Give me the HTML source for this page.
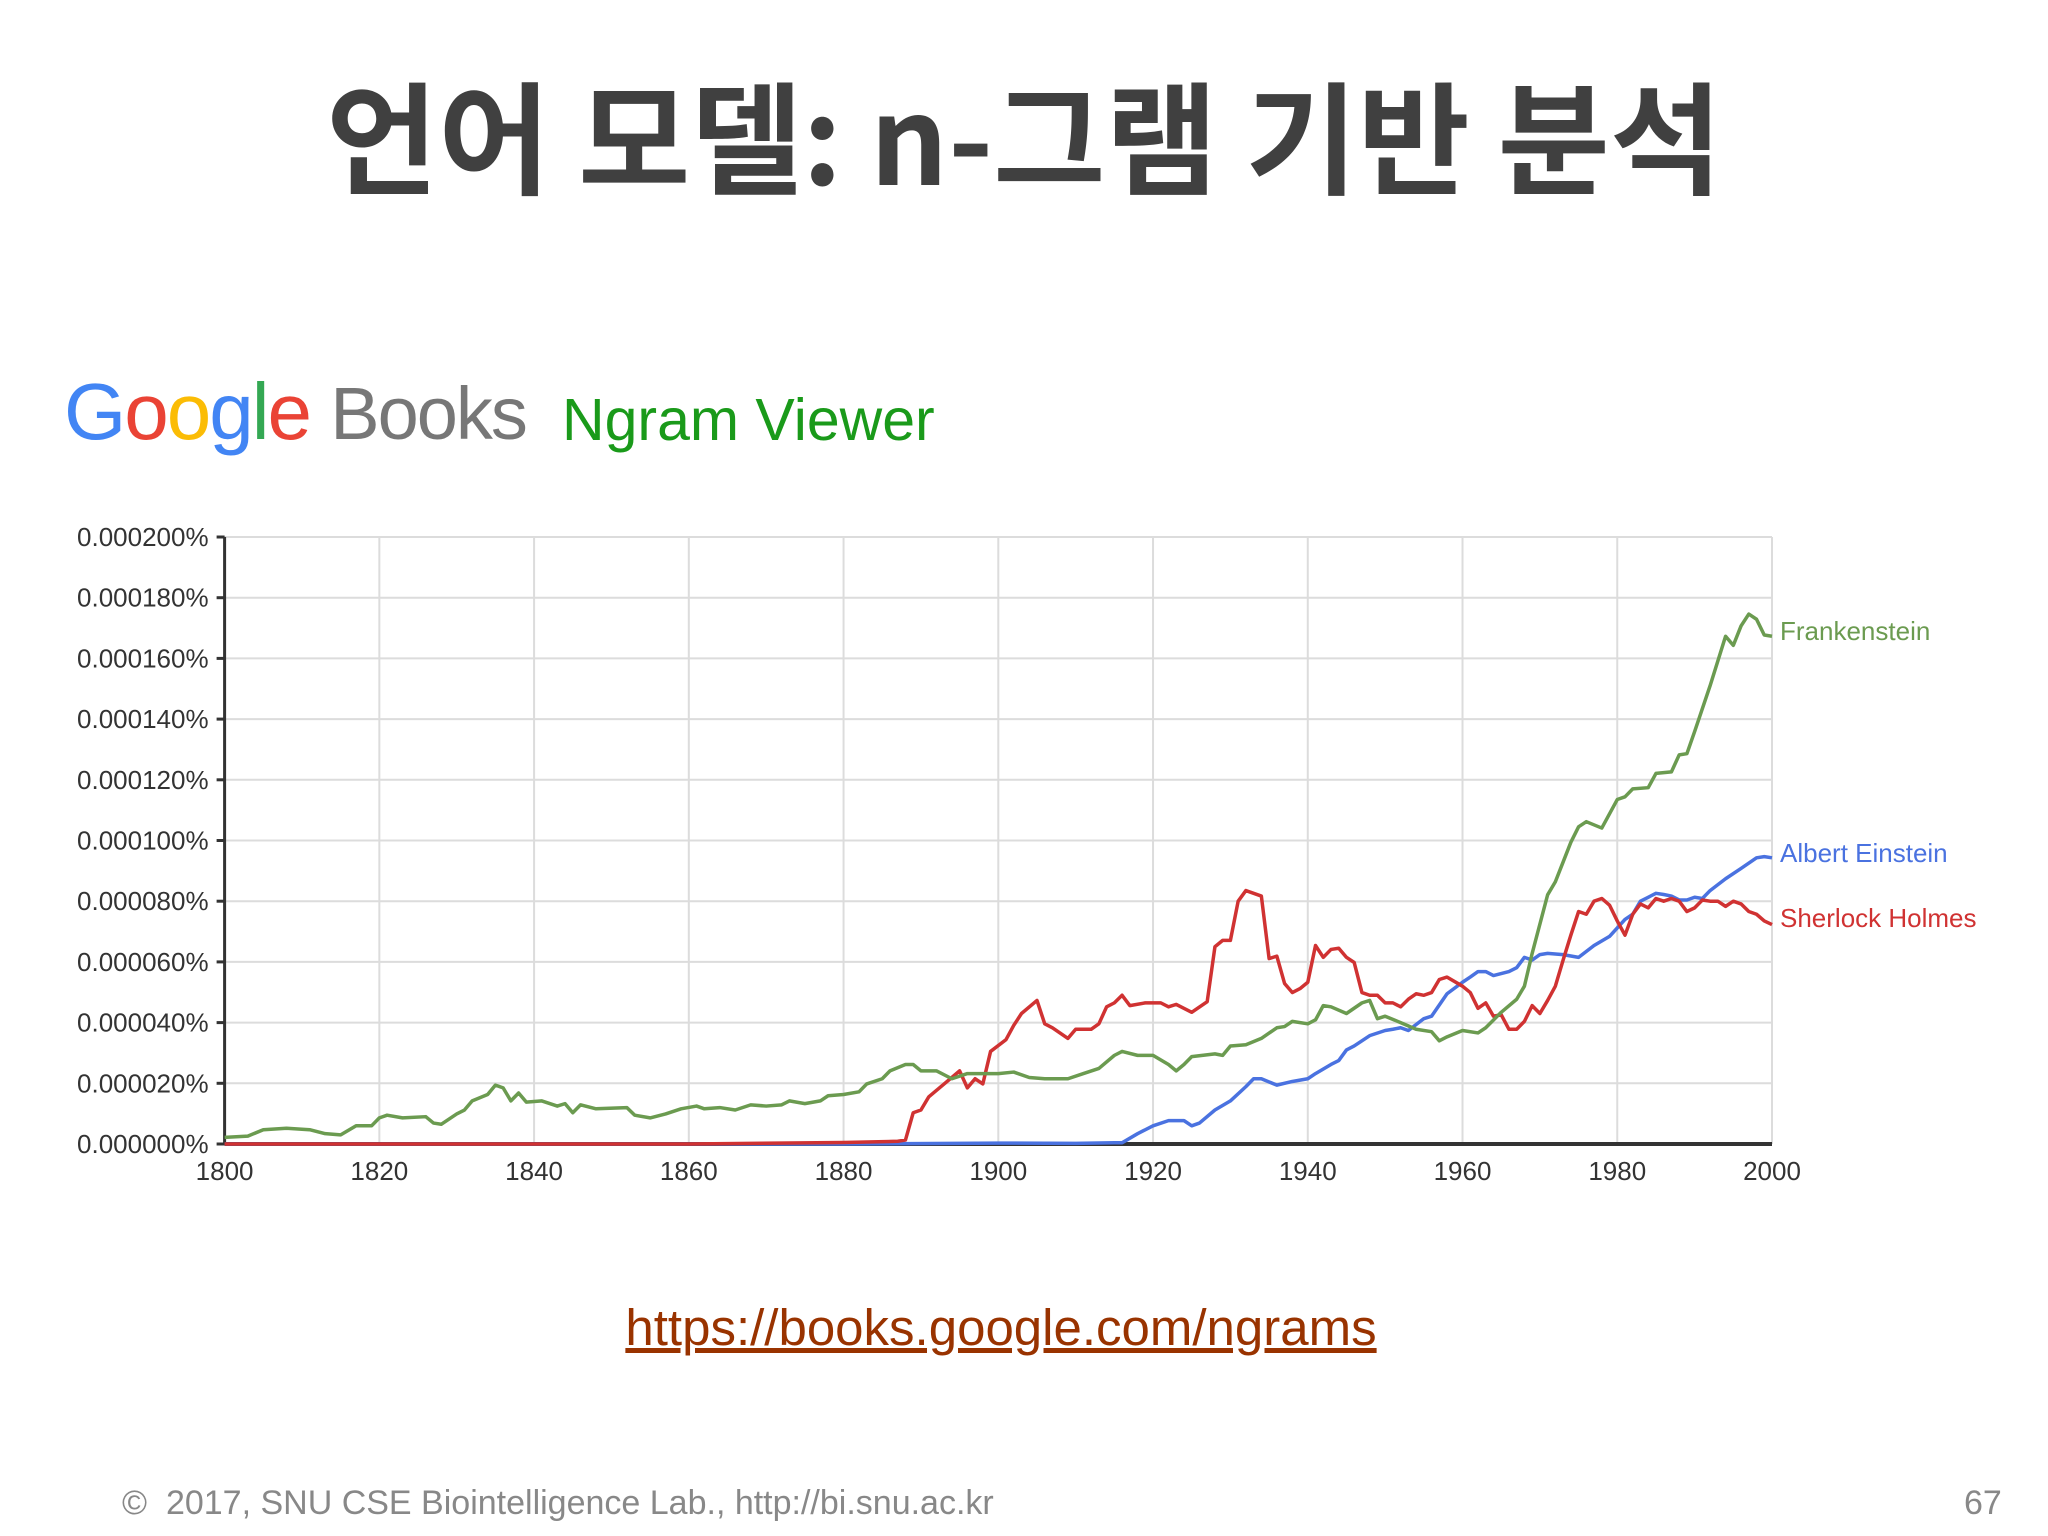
<!DOCTYPE html>
<html><head><meta charset="utf-8">
<style>
html,body{margin:0;padding:0;background:#fff;}
body{width:2048px;height:1536px;position:relative;overflow:hidden;font-family:"Liberation Sans","Noto Sans CJK KR",sans-serif;}
.t{position:absolute;white-space:nowrap;}
</style></head>
<body>
<div class="t" style="left:0;width:2048px;text-align:center;top:53px;font-size:122px;font-weight:bold;color:#404040;font-family:'Noto Sans CJK KR','Liberation Sans',sans-serif;line-height:160px;">언어 모델: n-그램 기반 분석</div>

<div class="t" style="left:64px;top:362px;font-size:80px;line-height:100px;letter-spacing:-2px;">
<span style="color:#4285f4">G</span><span style="color:#ea4335">o</span><span style="color:#fbbc05">o</span><span style="color:#4285f4">g</span><span style="color:#34a853">l</span><span style="color:#ea4335">e</span> <span style="color:#777;font-size:74px;">Books</span></div>
<div class="t" style="left:562px;top:380px;font-size:59px;line-height:80px;color:#1a9a1a;">Ngram Viewer</div>

<svg id="chart" width="2048" height="1536" style="position:absolute;left:0;top:0;" xmlns="http://www.w3.org/2000/svg"></svg>

<a class="t" style="left:-23px;width:2048px;text-align:center;top:1298px;font-size:51px;color:#993300;text-decoration:underline;line-height:60px;">https://books.google.com/ngrams</a>
<div class="t" style="left:122px;top:1483px;font-size:34px;color:#888;line-height:40px;">©&nbsp; 2017, SNU CSE Biointelligence Lab., http://bi.snu.ac.kr</div>
<div class="t" style="left:1964px;top:1483px;font-size:34px;color:#888;line-height:40px;">67</div>

<script>
const yTicks = [0,20,40,60,80,100,120,140,160,180,200];
const yTickLabels = ["0.000000%","0.000020%","0.000040%","0.000060%","0.000080%","0.000100%","0.000120%","0.000140%","0.000160%","0.000180%","0.000200%"];
const xTicks = [1800,1820,1840,1860,1880,1900,1920,1940,1960,1980,2000];
const frankYears = [1800,1803,1805,1808,1811,1813,1815,1817,1819,1820,1821,1823,1826,1827,1828,1830,1831,1832,1834,1835,1836,1837,1838,1839,1841,1843,1844,1845,1846,1848,1852,1853,1855,1857,1859,1861,1862,1864,1866,1868,1870,1872,1873,1875,1877,1878,1880,1882,1883,1885,1886,1888,1889,1890,1892,1894,1896,1900,1902,1904,1906,1909,1911,1913,1915,1916,1918,1920,1922,1923,1924,1925,1928,1929,1930,1932,1934,1936,1937,1938,1940,1941,1942,1943,1945,1947,1948,1949,1950,1952,1954,1956,1957,1958,1960,1962,1963,1965,1967,1968,1969,1971,1972,1973,1974,1975,1976,1978,1980,1981,1982,1984,1985,1987,1988,1989,1990,1992,1994,1995,1996,1997,1998,1999,2000];
const frankValues = [2.2,2.6,4.7,5.2,4.7,3.4,3.0,6.0,6.0,8.6,9.5,8.6,9.0,6.9,6.5,9.9,11.2,14.2,16.3,19.4,18.5,14.2,16.8,13.8,14.2,12.5,13.3,10.3,12.9,11.6,12.0,9.5,8.6,9.9,11.6,12.5,11.6,12.0,11.2,12.9,12.5,12.9,14.2,13.3,14.2,15.9,16.3,17.2,19.8,21.5,24.1,26.2,26.2,24.1,24.1,21.5,23.2,23.2,23.7,21.9,21.5,21.5,23.2,24.9,29.2,30.5,29.2,29.2,26.2,24.1,26.2,28.8,29.7,29.2,32.3,32.7,34.8,38.3,38.7,40.4,39.6,40.9,45.6,45.2,43.0,46.5,47.3,41.3,42.1,40.0,37.8,37.0,34.0,35.3,37.4,36.6,38.3,43.4,47.7,52.0,62.8,82.1,86.4,92.9,99.4,104.5,106.2,104.1,113.5,114.4,117.0,117.4,122.1,122.6,128.2,128.6,135.9,151.0,167.3,164.3,170.7,174.6,172.9,167.7,167.3];
const einYears = [1800,1880,1900,1910,1915,1916,1918,1920,1922,1924,1925,1926,1928,1930,1932,1933,1934,1936,1938,1940,1941,1943,1944,1945,1946,1948,1950,1951,1952,1953,1955,1956,1958,1960,1961,1962,1963,1964,1966,1967,1968,1969,1970,1971,1973,1975,1977,1979,1981,1982,1983,1984,1985,1986,1987,1988,1989,1990,1991,1992,1994,1996,1998,1999,2000];
const einValues = [0,0,0.3,0.2,0.4,0.4,3.4,6.0,7.7,7.7,6.0,6.9,11.2,14.2,18.9,21.5,21.5,19.4,20.6,21.5,23.2,26.2,27.5,31.0,32.3,35.7,37.4,37.8,38.3,37.4,41.3,42.1,49.5,53.3,55.0,56.8,56.8,55.5,56.8,58.1,61.5,60.6,62.4,62.8,62.4,61.5,65.4,68.4,74.0,75.7,80.0,81.3,82.6,82.2,81.7,80.4,80.4,81.3,80.9,83.5,87.4,90.8,94.3,94.7,94.3];
const sherYears = [1800,1860,1880,1887,1888,1889,1890,1891,1893,1895,1896,1897,1898,1899,1901,1902,1903,1905,1906,1907,1909,1910,1912,1913,1914,1915,1916,1917,1919,1921,1922,1923,1925,1927,1928,1929,1930,1931,1932,1934,1935,1936,1937,1938,1939,1940,1941,1942,1943,1944,1945,1946,1947,1948,1949,1950,1951,1952,1953,1954,1955,1956,1957,1958,1960,1961,1962,1963,1964,1965,1966,1967,1968,1969,1970,1971,1972,1973,1974,1975,1976,1977,1978,1979,1980,1981,1982,1983,1984,1985,1986,1987,1988,1989,1990,1991,1992,1993,1994,1995,1996,1997,1998,1999,2000];
const sherValues = [0,0,0.5,0.9,1.3,10.3,11.2,15.5,19.8,24.1,18.5,21.5,19.8,30.5,34.4,39.1,43.0,47.3,39.6,38.3,34.8,37.8,37.8,39.6,45.2,46.5,49.0,45.6,46.5,46.5,45.2,46.0,43.4,46.9,65.0,67.1,67.1,80.0,83.5,81.7,61.1,61.9,52.9,49.9,51.2,53.3,65.4,61.5,64.1,64.5,61.5,59.8,49.9,49.0,49.0,46.5,46.5,45.2,47.7,49.5,49.0,49.9,54.2,55.0,52.0,49.9,44.7,46.5,42.1,42.6,37.8,37.8,40.4,45.6,43.0,47.3,52.0,60.6,68.8,76.6,75.7,80.0,80.9,78.7,73.5,68.8,75.7,79.1,77.8,80.9,80.0,80.9,80.0,76.6,77.8,80.4,80.0,80.0,78.3,80.0,79.1,76.6,75.7,73.5,72.3];

const svg = document.getElementById('chart');
const NS = 'http://www.w3.org/2000/svg';
const L = 224.6, R = 1772, T = 537, B = 1144;
function xScale(yr){ return L + (yr - 1800) / 200 * (R - L); }
function yScale(v){ return B - v / 200 * (B - T); }
function mk(tag, attrs){ const e = document.createElementNS(NS, tag); for (const k in attrs) e.setAttribute(k, attrs[k]); svg.appendChild(e); return e; }

yTicks.forEach((v, i) => {
  const g = mk('line', {x1: L, x2: R, y1: yScale(v), y2: yScale(v), stroke: '#dcdcdc', 'stroke-width': 2});
  
  
  const tk = mk('line', {x1: L - 8, x2: L, y1: yScale(v), y2: yScale(v), stroke: '#333', 'stroke-width': 3});
  
  
  const t = mk('text', {x: L - 16, y: yScale(v) + 9, 'text-anchor': 'end', 'font-size': 26, fill: '#333', 'font-family': 'Liberation Sans, sans-serif'});
  t.textContent = yTickLabels[i];
  
  
});
xTicks.forEach(yr => {
  const g = mk('line', {x1: xScale(yr), x2: xScale(yr), y1: T, y2: B, stroke: '#dcdcdc', 'stroke-width': 2});
  
  
  const t = mk('text', {x: xScale(yr), y: B + 36, 'text-anchor': 'middle', 'font-size': 26, fill: '#333', 'font-family': 'Liberation Sans, sans-serif'});
  t.textContent = yr;
  
  
});
const ya = mk('line', {x1: L, x2: L, y1: T, y2: B, stroke: '#333', 'stroke-width': 3});


const xa = mk('line', {x1: L, x2: R, y1: B, y2: B, stroke: '#333', 'stroke-width': 4});



function series(years, vals, color, name, label, ly){
  const p = mk('polyline', {points: years.map((y, i) => xScale(y) + ',' + yScale(vals[i])).join(' '), fill: 'none', stroke: color, 'stroke-width': 3.5, 'stroke-linejoin': 'round'});
  
  
  const t = mk('text', {x: R + 8, y: ly, 'font-size': 26, fill: color, 'font-family': 'Liberation Sans, sans-serif'});
  t.textContent = label;
  
  
}
series(einYears, einValues, '#4a72e0', 'albert-einstein', 'Albert Einstein', 862);
series(sherYears, sherValues, '#d03232', 'sherlock-holmes', 'Sherlock Holmes', 927);
series(frankYears, frankValues, '#6b9b50', 'frankenstein', 'Frankenstein', 640);
</script>
</body></html>
